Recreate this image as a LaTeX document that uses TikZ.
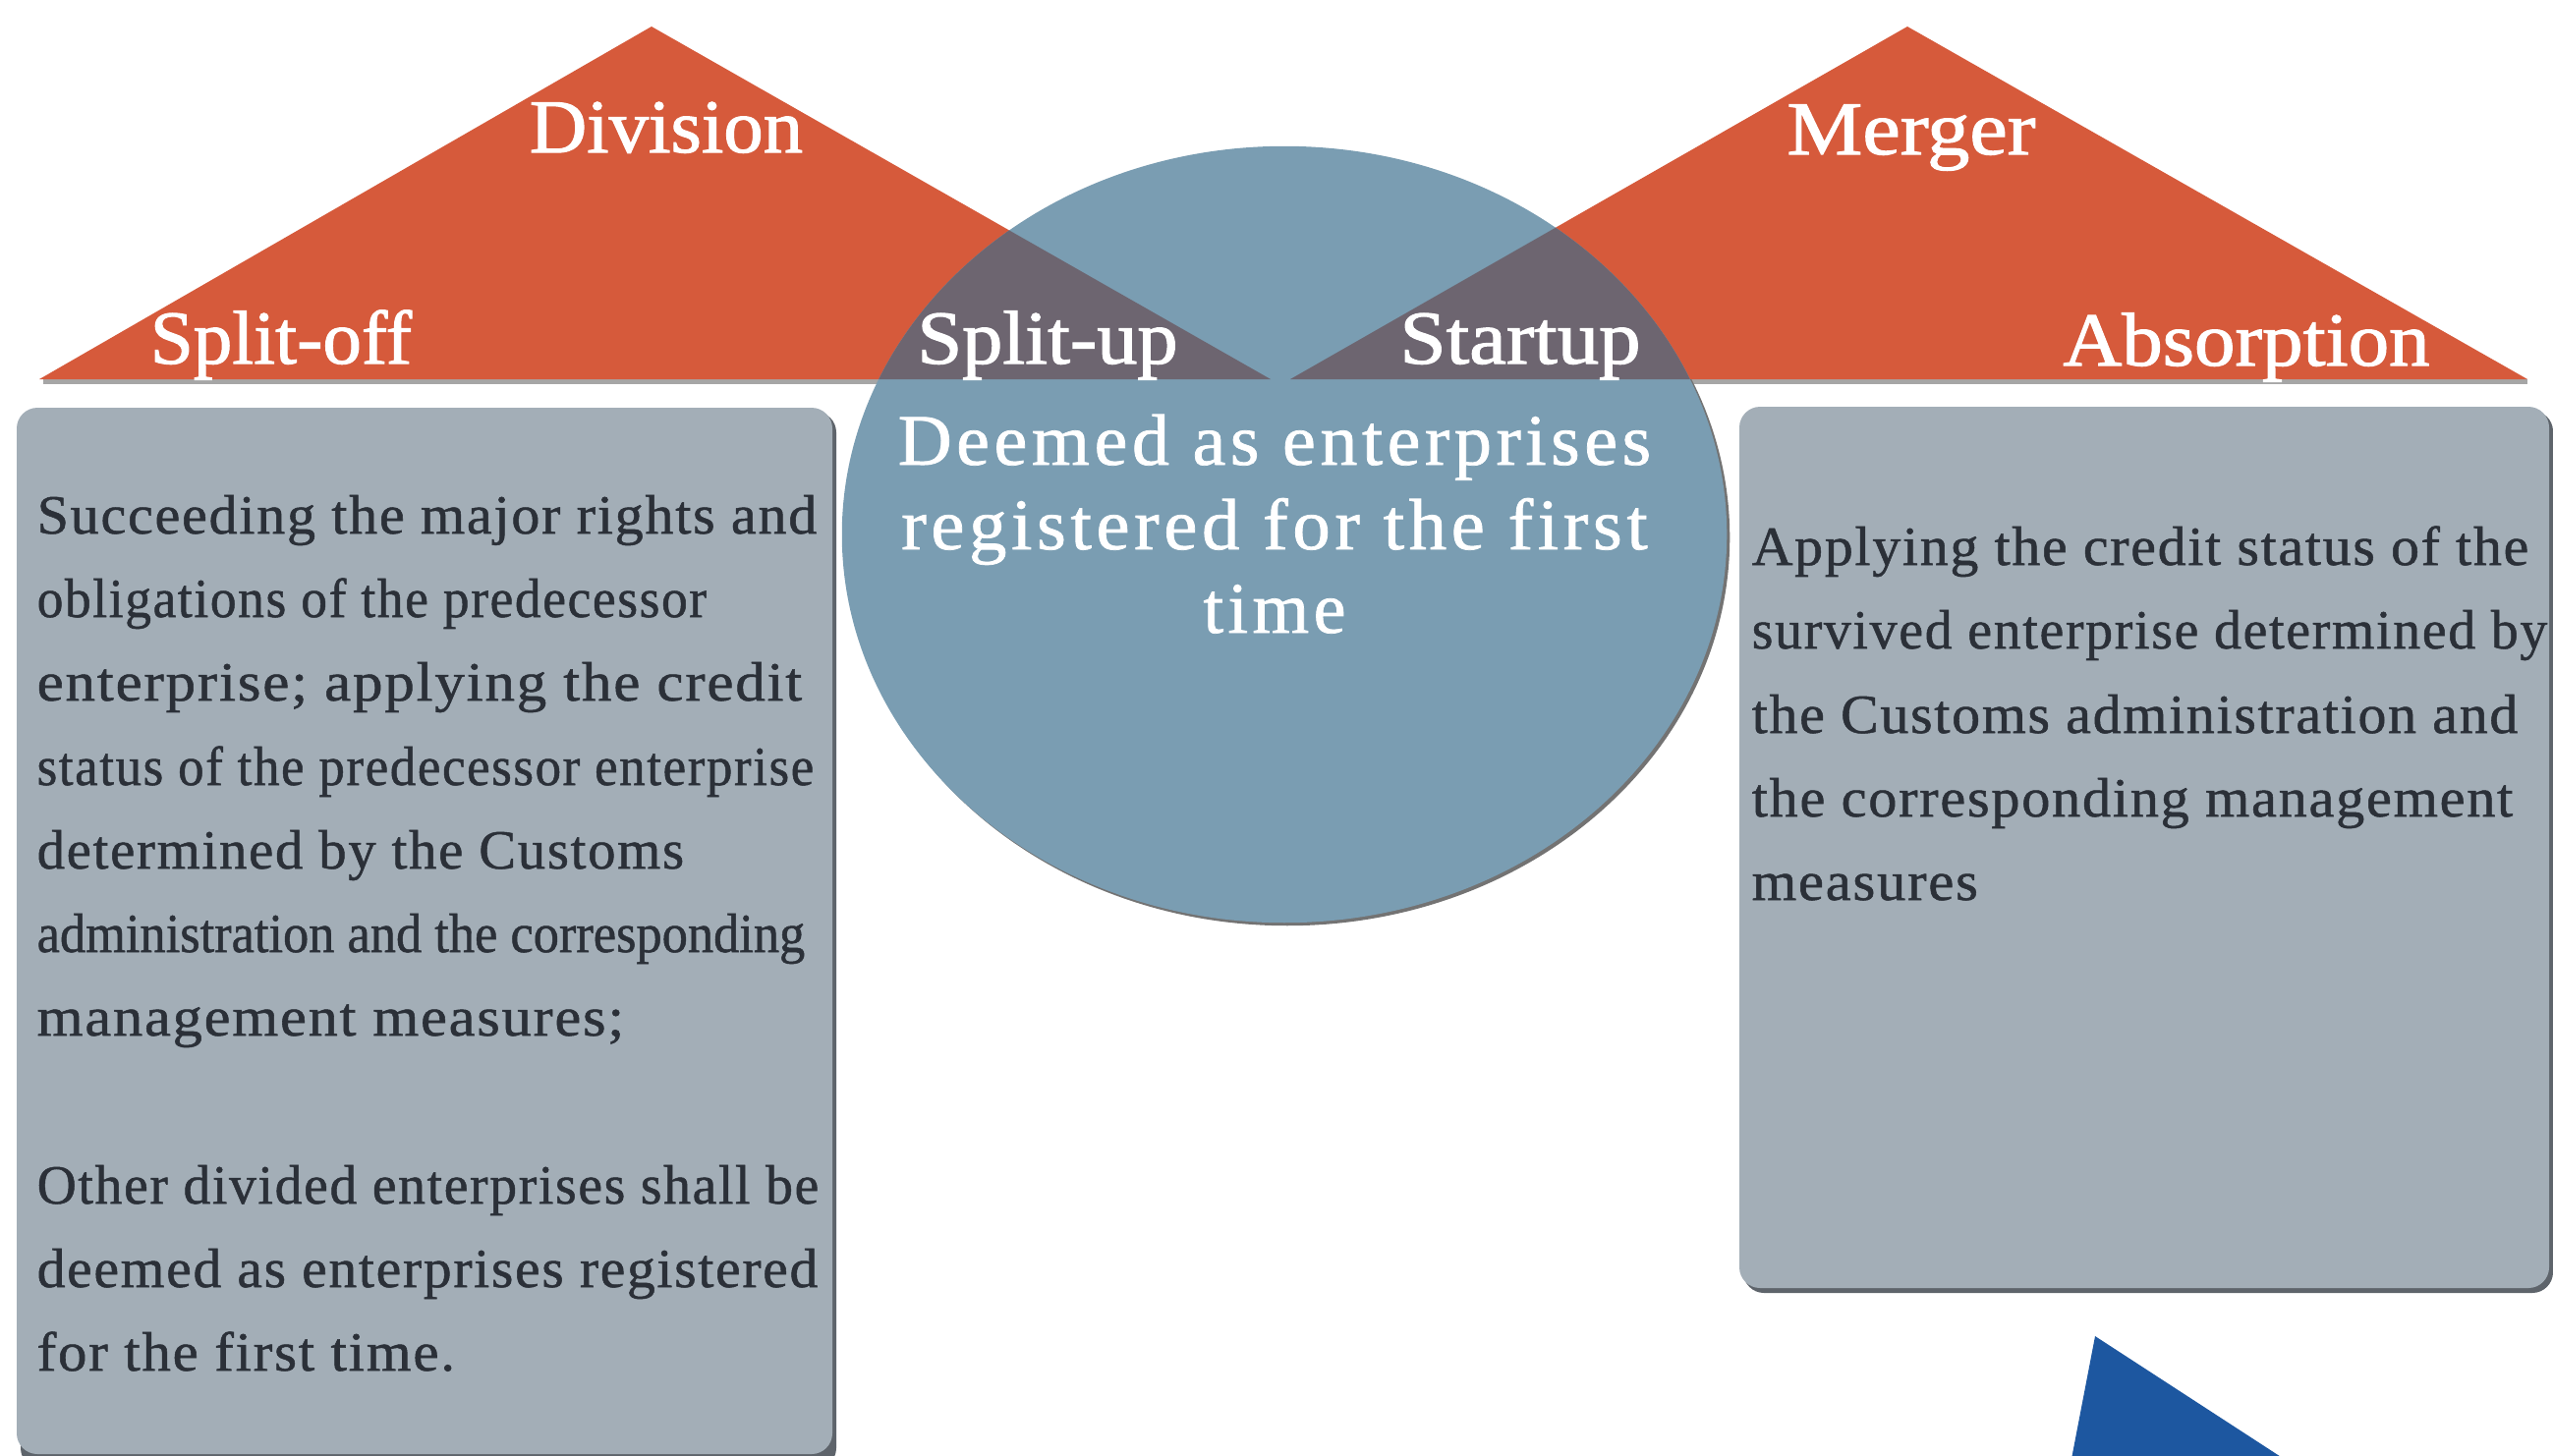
\documentclass[tikz,border=0pt]{standalone}
\usepackage{fontspec}
\usepackage{graphicx}
\setmainfont{Liberation Serif}
\newfontfamily\labfont[FakeBold=1.4]{Liberation Serif}
\newfontfamily\boxfont[LetterSpace=3,FakeBold=0.9]{Liberation Serif}
\newfontfamily\boxfonttight[FakeBold=0.9]{Liberation Serif}
\newfontfamily\circfont[LetterSpace=6,FakeBold=1.0]{Liberation Serif}
\definecolor{orng}{HTML}{D65A3B}
\definecolor{ellblue}{HTML}{7A9DB2}
\definecolor{ovl}{HTML}{6D6570}
\definecolor{boxgray}{HTML}{A3AEB7}
\definecolor{boxshadow}{HTML}{5E646B}
\definecolor{txtdark}{HTML}{2B3038}
\definecolor{botblue}{HTML}{1D57A0}
\newcommand{\fitw}[2]{\resizebox{#1}{\height}{#2}}
\tikzset{
  lab/.style={inner sep=0pt, anchor=base, text=white, font=\labfont\fontsize{22}{26}\selectfont},
  circtxt/.style={inner sep=0pt, anchor=base, text=white, font=\circfont\fontsize{21}{25}\selectfont},
  boxtxt/.style={inner sep=0pt, anchor=base west, text=txtdark, font=\boxfont\fontsize{16}{20}\selectfont},
  boxtxttight/.style={inner sep=0pt, anchor=base west, text=txtdark, font=\boxfonttight\fontsize{16}{20}\selectfont},
  panel/.style={fill=boxgray, rounded corners=6pt},
  panelshadow/.style={fill=boxshadow, rounded corners=6pt}
}
\begin{document}
\begin{tikzpicture}[x=0.01cm,y=-0.01cm]
\useasboundingbox (0,0) rectangle (2598,1481);
\clip (0,0) rectangle (2598,1481);
\fill[white] (0,0) rectangle (2598,1481);

% base shadows of triangles
\fill[black!35] (44,386) rectangle (1291,391);
\fill[black!35] (1316,386) rectangle (2572,391);

% triangles
\fill[orng] (40,386) -- (663,27) -- (1293,386) -- cycle;
\fill[orng] (1313,386) -- (1941,27) -- (2572,386) -- cycle;

% ellipse shadow (lower part only)
\begin{scope}
  \clip (0,386) rectangle (2598,1481);
  \fill[black!55] (1310,547) ellipse [x radius=4.5cm, y radius=3.95cm];
\end{scope}
\fill[ellblue] (1307,544) ellipse [x radius=4.5cm, y radius=3.95cm];

% overlap regions
\begin{scope}
  \clip (1307,544) ellipse [x radius=4.5cm, y radius=3.95cm];
  \fill[ovl] (40,386) -- (663,27) -- (1293,386) -- cycle;
  \fill[ovl] (1313,386) -- (1941,27) -- (2572,386) -- cycle;
\end{scope}

% labels
\node[lab] (division) at (678,155) {\fitw{2.78cm}{Division}};
\node[lab] (splitoff) at (286,370) {\fitw{2.66cm}{Split-off}};
\node[lab] (splitup) at (1066,370) {\fitw{2.65cm}{Split-up}};
\node[lab] (startup) at (1547,370) {\fitw{2.45cm}{Startup}};
\node[lab] (merger) at (1945,157) {\fitw{2.53cm}{Merger}};
\node[lab] (absorption) at (2286,372) {\fitw{3.73cm}{Absorption}};

% circle text
\node[circtxt] (c1) at (1297,473) {\fitw{7.66cm}{Deemed as enterprises}};
\node[circtxt] (c2) at (1297,559) {\fitw{7.59cm}{registered for the first}};
\node[circtxt] (c3) at (1297,644) {\fitw{1.45cm}{time}};

% left panel
\fill[panelshadow] (21,419) rectangle (851,1495);
\fill[panel] (17,415) rectangle (847,1480);
\node[boxtxt] (l1) at (37,543) {\fitw{7.93cm}{Succeeding the major rights and}};
\node[boxtxt] (l2) at (37,628) {\fitw{6.81cm}{obligations of the predecessor}};
\node[boxtxt] (l3) at (37,713) {\fitw{7.78cm}{enterprise; applying the credit}};
\node[boxtxt] (l4) at (37,799) {\fitw{7.90cm}{status of the predecessor enterprise}};
\node[boxtxt] (l5) at (37,884) {\fitw{6.58cm}{determined by the Customs}};
\node[boxtxttight] (l6) at (37,969) {\fitw{7.81cm}{administration and the corresponding}};
\node[boxtxt] (l7) at (37,1054) {\fitw{5.97cm}{management measures;}};
\node[boxtxt] (l8) at (37,1225) {\fitw{7.95cm}{Other divided enterprises shall be}};
\node[boxtxt] (l9) at (37,1310) {\fitw{7.94cm}{deemed as enterprises registered}};
\node[boxtxt] (l10) at (37,1395) {\fitw{4.25cm}{for the first time.}};

% right panel
\fill[panelshadow] (1774,418) rectangle (2598,1316);
\fill[panel] (1770,414) rectangle (2594,1311);
\node[boxtxt] (r1) at (1782,575) {\fitw{7.90cm}{Applying the credit status of the}};
\node[boxtxt] (r2) at (1782,660) {\fitw{8.09cm}{survived enterprise determined by}};
\node[boxtxt] (r3) at (1782,746) {\fitw{7.79cm}{the Customs administration and}};
\node[boxtxt] (r4) at (1782,831) {\fitw{7.74cm}{the corresponding management}};
\node[boxtxt] (r5) at (1782,916) {\fitw{2.30cm}{measures}};

% bottom blue triangle
\fill[botblue] (2132,1360) -- (2332,1490) -- (2107,1490) -- cycle;
\end{tikzpicture}
\end{document}
